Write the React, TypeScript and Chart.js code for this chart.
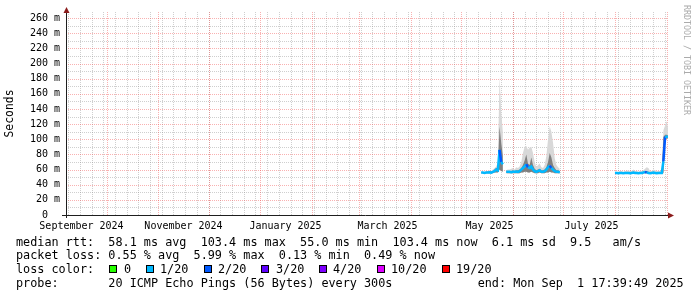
import React, { useEffect, useRef } from "react";
import { Chart, registerables } from "chart.js";

Chart.register(...registerables);

const MONO = '"DejaVu Sans Mono", "Liberation Mono", monospace';

// x axis: days since 2024-09-01 00:00 (graph ends Mon Sep 1 2025 17:39:49)
const xStartDay = 5.735;
const xEndDay = 365.735;
const yMaxMs = 268;

const xLabelDays = [15, 76, 137, 198, 259, 320];
const xLabelTexts = ["September 2024", "November 2024", "January 2025", "March 2025", "May 2025", "July 2025"];
const monthStartDays = [30, 61, 91, 122, 153, 181, 212, 242, 273, 303, 334, 365];
const weekStartDays = [7, 14, 21, 28, 35, 42, 49, 56, 63, 70, 77, 84, 91, 98, 105, 112, 119, 126, 133, 140, 147, 154, 161, 168, 175, 182, 189, 196, 203, 210, 217, 224, 231, 238, 245, 252, 259, 266, 273, 280, 287, 294, 301, 308, 315, 322, 329, 336, 343, 350, 357, 364];

const yMajorValues = [0, 20, 40, 60, 80, 100, 120, 140, 160, 180, 200, 220, 240, 260];
const yMajorLabels = ["0  ", "20 m", "40 m", "60 m", "80 m", "100 m", "120 m", "140 m", "160 m", "180 m", "200 m", "220 m", "240 m", "260 m"];
const yMinorValues = [10, 30, 50, 70, 90, 110, 130, 150, 170, 190, 210, 230, 250];

// samples (ms); null = no data
const sampleDays = [
  254, 255, 256, 257, 258, 259, 260, 261, 262, 263, 264, 265, 266, 267,
  268,
  269, 270, 271, 272, 273, 274, 275, 276, 277, 278, 279, 280, 281, 282, 283, 284, 285,
  286, 287, 288, 289, 290, 291, 292, 293, 294, 295, 296, 297, 298, 299, 300, 301,
  317,
  334, 335, 336, 337, 338, 339, 340, 341, 342, 343, 344, 345, 346, 347, 348, 349,
  350, 351, 352, 353, 354, 355, 356, 357, 358, 359, 360, 361, 362, 363, 364, 365, 365.7,
];
const medianMs = [
  56, 56, 55.5, 56, 56, 56.5, 56, 57, 58, 60, 59, 86, 70, 67,
  null,
  57, 57, 57, 56.5, 57, 57, 57.5, 57, 58, 60, 62, 64, 67, 63, 62, 64, 60,
  58, 57, 58, 59, 57, 57, 58, 60, 63, 65, 62, 60, 58, 57, 57, 56.5,
  null,
  55.5, 55.5, 55, 55.5, 55.5, 55, 55.5, 55.5, 55.5, 55, 55.5, 56, 55.5, 55.5, 55, 55.5,
  55.5, 56, 57, 56, 55.5, 55, 55.5, 56, 55.5, 55, 55.5, 55.5, 55.5, 71, 103.4, 103.4, 103.4,
];
const smokeLowMs = [
  55, 55, 55, 55, 55, 55, 55, 55, 56, 56, 56, 60, 58, 57,
  null,
  55, 55, 55, 55, 55, 55, 55, 55, 55, 56, 56, 57, 57, 56, 56, 57, 56,
  55, 55, 55, 56, 55, 55, 55, 56, 56, 57, 56, 56, 55, 55, 55, 55,
  null,
  55, 55, 54.5, 55, 55, 54.5, 55, 55, 55, 54.5, 55, 55, 55, 55, 54.5, 55,
  55, 55, 55, 55, 55, 54.5, 55, 55, 55, 54.5, 55, 55, 55, 55, 100, 101, 101,
];
const smokeDarkTopMs = [
  56.5, 56.5, 56, 57, 57, 57.5, 57, 58, 60, 62, 63, 117, 95, 78,
  null,
  58, 58, 58, 58, 59, 58, 59, 59, 60, 62, 66, 72, 80, 68, 66, 76, 66,
  61, 59, 60, 61, 59, 59, 60, 63, 70, 82, 76, 66, 62, 59, 59, 58,
  null,
  56, 56, 56, 56, 56, 56, 56, 56, 56, 56, 56, 57, 56, 56, 56, 56,
  56, 57, 58, 58, 57, 56, 56, 57, 56, 56, 56, 56, 56, 103, 106, 106, 105,
];
const smokeHighMs = [
  57, 57, 57, 58, 58, 59, 58, 60, 62, 64, 70, 183, 135, 110,
  null,
  59, 60, 60, 61, 62, 60, 63, 62, 64, 70, 82, 90, 91, 86, 89, 90, 82,
  70, 63, 66, 68, 63, 62, 66, 78, 100, 117, 110, 95, 75, 66, 63, 61,
  null,
  57, 57, 57, 58, 58, 57, 58, 58, 59, 58, 58, 60, 58, 58, 57, 58,
  58, 59, 61, 63, 62, 58, 58, 60, 59, 58, 58, 58, 58, 112, 118, 124, 115,
];
// index into the loss legend below
const lossIndex = [
  1, 1, 1, 1, 1, 1, 1, 1, 1, 1, 1, 2, 1, 1,
  1,
  1, 1, 1, 1, 1, 1, 1, 1, 1, 1, 1, 1, 2, 1, 1, 1, 1,
  1, 1, 1, 1, 1, 1, 1, 1, 1, 2, 1, 1, 1, 1, 1, 1,
  1,
  1, 1, 1, 1, 1, 1, 1, 1, 1, 1, 1, 1, 1, 1, 1, 1,
  1, 1, 2, 1, 1, 1, 1, 1, 1, 1, 1, 1, 1, 2, 1, 1, 1,
];

const lossLegendLabels = ["0", "1/20", "2/20", "3/20", "4/20", "10/20", "19/20"];
const lossLegendColors = ["#26ff00", "#00b8ff", "#0059ff", "#5e00ff", "#7e00ff", "#dd00ff", "#ff0000"];
const lossBoxLefts = [109, 146, 204, 261, 319, 377, 442];
const lossTextLefts = [124, 160, 218, 276, 333, 391, 456];

const legendLine1 = "median rtt:  58.1 ms avg  103.4 ms max  55.0 ms min  103.4 ms now  6.1 ms sd  9.5   am/s";
const legendLine2 = "packet loss: 0.55 % avg  5.99 % max  0.13 % min  0.49 % now";
const legendLine3 = "loss color:";
const legendLine4 = "probe:       20 ICMP Echo Pings (56 Bytes) every 300s            end: Mon Sep  1 17:39:49 2025";
const watermark = "RRDTOOL / TOBI OETIKER";

const MGRID = "rgba(240,70,70,0.42)";
const GRID = "rgba(140,140,140,0.42)";

const pts = (arr: (number | null)[]) => sampleDays.map((d, i) => ({ x: d, y: arr[i] }));

const gridPlugin = {
  id: "rrdGrid",
  beforeDatasetsDraw(chart: any) {
    const { ctx } = chart;
    const { left, right, top, bottom } = chart.chartArea;
    const xs = chart.scales.x;
    const ys = chart.scales.y;
    ctx.save();
    ctx.lineWidth = 1;
    ctx.setLineDash([1, 1]);
    const vline = (v: number, color: string) => {
      const px = Math.round(xs.getPixelForValue(v)) + 0.5;
      if (px < left || px > right) return;
      ctx.strokeStyle = color;
      ctx.beginPath();
      ctx.moveTo(px, bottom);
      ctx.lineTo(px, top);
      ctx.stroke();
    };
    const hline = (v: number, color: string) => {
      const py = Math.round(ys.getPixelForValue(v)) + 0.5;
      ctx.strokeStyle = color;
      ctx.beginPath();
      ctx.moveTo(left, py);
      ctx.lineTo(right, py);
      ctx.stroke();
    };
    weekStartDays.forEach((d) => vline(d, GRID));
    yMinorValues.forEach((v) => hline(v, GRID));
    monthStartDays.forEach((d) => vline(d, MGRID));
    yMajorValues.forEach((v) => {
      if (v > 0) hline(v, MGRID);
    });
    ctx.restore();
  },
};

const axisPlugin = {
  id: "rrdAxes",
  afterDraw(chart: any) {
    const { ctx } = chart;
    const { left, right, top, bottom } = chart.chartArea;
    ctx.save();
    ctx.strokeStyle = "#1e1e1e";
    ctx.lineWidth = 1;
    ctx.beginPath();
    ctx.moveTo(left - 4, bottom + 0.5);
    ctx.lineTo(right + 1, bottom + 0.5);
    ctx.moveTo(left + 0.5, bottom + 3);
    ctx.lineTo(left + 0.5, top - 1);
    ctx.stroke();
    ctx.fillStyle = "#8b1c1c";
    ctx.beginPath();
    ctx.moveTo(left + 0.5, top - 5);
    ctx.lineTo(left - 2.5, top + 1);
    ctx.lineTo(left + 3.5, top + 1);
    ctx.closePath();
    ctx.fill();
    ctx.beginPath();
    ctx.moveTo(right + 6, bottom + 0.5);
    ctx.lineTo(right, bottom - 2.5);
    ctx.lineTo(right, bottom + 3.5);
    ctx.closePath();
    ctx.fill();
    ctx.restore();
  },
};

export default function App() {
  const canvasRef = useRef<HTMLCanvasElement | null>(null);

  useEffect(() => {
    document.body.style.margin = "0";
    const canvas = canvasRef.current;
    if (!canvas) return;

    const chart = new Chart(canvas, {
      type: "line",
      data: {
        datasets: [
          {
            label: "median",
            data: pts(medianMs),
            borderColor: lossLegendColors[1],
            borderWidth: 2.5,
            pointRadius: 0,
            fill: false,
            spanGaps: false,
            order: 0,
            segment: {
              borderColor: (c: any) => lossLegendColors[lossIndex[c.p0DataIndex]],
            },
          },
          {
            label: "smokeDarkTop",
            data: pts(smokeDarkTopMs),
            borderWidth: 0,
            pointRadius: 0,
            fill: false,
            order: 1,
          },
          {
            label: "smokeDarkLow",
            data: pts(smokeLowMs),
            borderWidth: 0,
            pointRadius: 0,
            fill: { target: 1 },
            backgroundColor: "#808080",
            order: 1,
          },
          {
            label: "smokeHigh",
            data: pts(smokeHighMs),
            borderWidth: 0,
            pointRadius: 0,
            fill: false,
            order: 2,
          },
          {
            label: "smokeLow",
            data: pts(smokeLowMs),
            borderWidth: 0,
            pointRadius: 0,
            fill: { target: 3 },
            backgroundColor: "#d8d8d8",
            order: 2,
          },
        ],
      },
      options: {
        animation: false,
        responsive: false,
        devicePixelRatio: 1,
        events: [],
        layout: { padding: { top: 12, right: 29, left: 0, bottom: 0 } },
        plugins: { legend: { display: false }, tooltip: { enabled: false } },
        scales: {
          x: {
            type: "linear",
            position: "bottom",
            min: xStartDay,
            max: xEndDay,
            afterBuildTicks: (s: any) => {
              s.ticks = xLabelDays.map((v) => ({ value: v }));
            },
            afterFit: (s: any) => {
              s.height = 82;
            },
            grid: { display: false, drawTicks: false },
            border: { display: false },
            ticks: {
              autoSkip: false,
              maxRotation: 0,
              minRotation: 0,
              padding: 5,
              color: "#000",
              font: { family: MONO, size: 10 },
              callback: (_v: any, i: number) => xLabelTexts[i] ?? "",
            },
          },
          y: {
            type: "linear",
            position: "left",
            min: 0,
            max: yMaxMs,
            afterBuildTicks: (s: any) => {
              s.ticks = yMajorValues.map((v) => ({ value: v }));
            },
            afterFit: (s: any) => {
              s.width = 66;
            },
            grid: { display: false, drawTicks: false },
            border: { display: false },
            ticks: {
              padding: 6,
              color: "#000",
              font: { family: MONO, size: 10 },
              callback: (_v: any, i: number) => yMajorLabels[i] ?? "",
            },
            title: {
              display: true,
              text: "Seconds",
              color: "#000",
              font: { family: MONO, size: 11.4 },
              padding: { top: 3, bottom: 0 },
            },
          },
        },
      } as any,
      plugins: [gridPlugin, axisPlugin],
    });
    return () => chart.destroy();
  }, []);

  const lineStyle = (centerY: number, left: number): React.CSSProperties => ({
    position: "absolute",
    left,
    top: centerY - 7,
    height: 14,
    lineHeight: "14px",
    fontFamily: MONO,
    fontSize: "11.8px",
    color: "#000",
    whiteSpace: "pre",
  });

  return (
    <div style={{ position: "relative", width: 697, height: 297, overflow: "hidden", background: "#fff" }}>
      <style>{"body{margin:0}"}</style>
      <canvas ref={canvasRef} width={697} height={297} style={{ position: "absolute", left: 0, top: 0, display: "block" }} />
      <div style={lineStyle(241.7, 16)}>{legendLine1}</div>
      <div style={lineStyle(255, 16)}>{legendLine2}</div>
      <div style={lineStyle(269.3, 16)}>{legendLine3}</div>
      {lossLegendLabels.map((lab, i) => (
        <React.Fragment key={lab}>
          <div
            style={{
              position: "absolute",
              left: lossBoxLefts[i],
              top: 265,
              width: 6,
              height: 6,
              border: "1px solid #000",
              background: lossLegendColors[i],
            }}
          />
          <div style={lineStyle(269.3, lossTextLefts[i])}>{lab}</div>
        </React.Fragment>
      ))}
      <div style={lineStyle(282.7, 16)}>{legendLine4}</div>
      <div
        style={{
          position: "absolute",
          left: 681.5,
          top: 5,
          writingMode: "vertical-rl",
          fontFamily: MONO,
          fontSize: "8.3px",
          lineHeight: "9px",
          color: "#ababab",
          whiteSpace: "pre",
        }}
      >
        {watermark}
      </div>
    </div>
  );
}
